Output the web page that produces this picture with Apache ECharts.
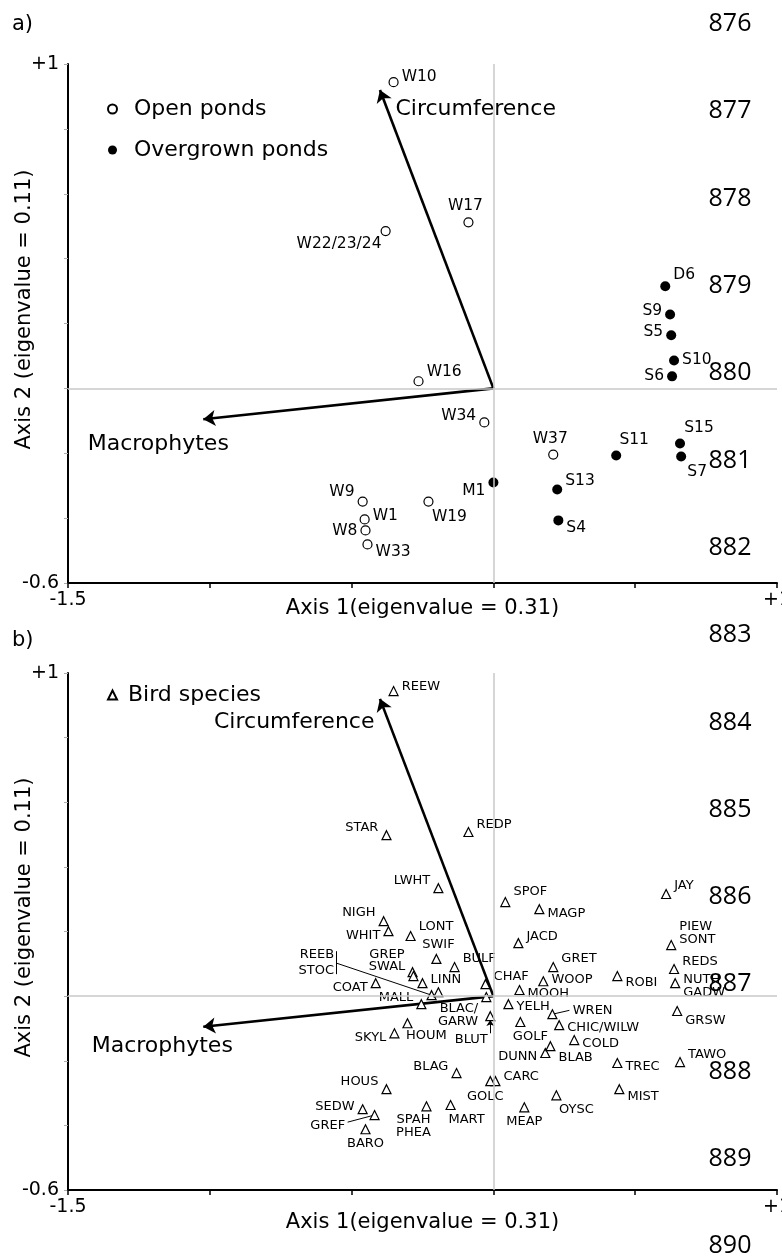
<!DOCTYPE html>
<html>
<head>
<meta charset="utf-8">
<title>RDA ordination of ponds and bird species</title>
<script src="https://cdn.jsdelivr.net/npm/echarts@6/dist/echarts.min.js"></script>
<style>
  html, body { margin: 0; padding: 0; background: #fff; }
  #chart { width: 782px; height: 1260px; }
</style>
</head>
<body>
<div id="chart"></div>
<script>
// ---- data ----
// panel a: ponds (site scores)
const openNames = ['W10', 'W17', 'W22/23/24', 'W16', 'W34', 'W37', 'W19', 'W9', 'W1', 'W8', 'W33']
const openX = [-0.352, -0.088, -0.380, -0.264, -0.032, 0.211, -0.229, -0.461, -0.454, -0.451, -0.444]
const openY = [0.944, 0.512, 0.485, 0.022, -0.105, -0.204, -0.349, -0.349, -0.404, -0.438, -0.481]

const overNames = ['D6', 'S9', 'S5', 'S10', 'S6', 'S11', 'S15', 'S7', 'M1', 'S13', 'S4']
const overX = [0.606, 0.623, 0.627, 0.637, 0.630, 0.433, 0.658, 0.662, 0.0, 0.225, 0.229]
const overY = [0.315, 0.228, 0.164, 0.086, 0.037, -0.207, -0.170, -0.210, -0.290, -0.312, -0.407]

// environmental vectors (same in both panels)
const envNames = ['Circumference', 'Macrophytes']
const envX = [-0.400, -1.023]
const envY = [0.920, -0.095]

// panel b: bird species scores
const birdNames = ['REEW', 'STAR', 'REDP', 'LWHT', 'NIGH', 'WHIT', 'LONT', 'SWIF', 'BULF', 'GREP',
  'SWAL', 'LINN', 'COAT', 'REEB', 'STOC', 'MALL', 'CHAF', 'BLAC/\nGARW', 'BLUT', 'SPOF',
  'MAGP', 'JACD', 'GRET', 'WOOP', 'MOOH', 'ROBI', 'JAY', 'PIEW\nSONT', 'REDS', 'NUTH\nGADW',
  'GRSW', 'YELH', 'WREN', 'GOLF', 'CHIC/WILW', 'COLD', 'DUNN', 'BLAB', 'TREC', 'TAWO',
  'CARC', 'GOLC', 'MIST', 'OYSC', 'MEAP', 'SKYL', 'HOUM', 'BLAG', 'HOUS', 'SEDW',
  'GREF', 'BARO', 'SPAH\nPHEA', 'MART']
const birdX = [-0.352, -0.377, -0.088, -0.194, -0.387, -0.370, -0.292, -0.201, -0.137, -0.285,
  -0.282, -0.250, -0.415, -0.218, -0.194, -0.254, -0.028, -0.025, -0.011, 0.042,
  0.162, 0.088, 0.211, 0.176, 0.092, 0.437, 0.609, 0.627, 0.637, 0.641,
  0.648, 0.053, 0.208, 0.095, 0.232, 0.285, 0.183, 0.201, 0.437, 0.658,
  0.007, -0.011, 0.444, 0.222, 0.109, -0.349, -0.303, -0.130, -0.377, -0.461,
  -0.419, -0.451, -0.236, -0.151]
const birdY = [0.944, 0.498, 0.508, 0.334, 0.232, 0.201, 0.186, 0.115, 0.090, 0.074,
  0.062, 0.040, 0.040, 0.003, 0.012, -0.025, 0.037, -0.003, -0.062, 0.291,
  0.269, 0.164, 0.090, 0.046, 0.019, 0.062, 0.316, 0.158, 0.084, 0.040,
  -0.046, -0.025, -0.056, -0.080, -0.090, -0.136, -0.176, -0.155, -0.207, -0.204,
  -0.263, -0.263, -0.288, -0.307, -0.344, -0.115, -0.084, -0.238, -0.288, -0.350,
  -0.368, -0.412, -0.341, -0.337]

// manuscript line numbers down the right margin
const lineNumbers = [876, 877, 878, 879, 880, 881, 882, 883, 884, 885, 886, 887, 888, 889, 890]

// ---- label placement (position, dx, dy) ----
const siteLabelPos = {
  'W10': ['right', 0, -5], 'W17': ['top', -3, 0], 'W22/23/24': ['left', 4, 13],
  'W16': ['right', 0, -9], 'W34': ['left', 0, -6], 'W37': ['top', -3, 0],
  'W19': ['bottom', 21, 0], 'W9': ['left', 0, -10], 'W1': ['right', 0, -3],
  'W8': ['left', 0, 1], 'W33': ['right', 0, 8],
  'D6': ['right', 0, -11], 'S9': ['left', 0, -3], 'S5': ['left', 0, -3],
  'S10': ['right', 0, -1], 'S6': ['left', 0, 0], 'S11': ['top', 18, 0],
  'S15': ['top', 19, 0], 'S7': ['bottom', 16, 0], 'M1': ['left', 0, 9],
  'S13': ['right', 0, -9], 'S4': ['right', 0, 8]
}
const birdLabelPos = {
  'REEW': ['right', 0, -4], 'STAR': ['left', 0, -8], 'REDP': ['right', 0, -7],
  'LWHT': ['left', 0, -8], 'NIGH': ['left', 0, -9], 'WHIT': ['left', 0, 4],
  'LONT': ['right', 0, -9], 'SWIF': ['top', 2, 0], 'BULF': ['right', 0, -8],
  'GREP': ['left', 0, -18], 'SWAL': ['left', 0, -9], 'LINN': ['right', 0, -4],
  'COAT': ['left', 0, 4], 'MALL': ['left', 0, -7], 'CHAF': ['right', 0, -8],
  'BLAC/\nGARW': ['left', 0, 18], 'MOOH': ['right', 0, 4], 'SPOF': ['right', 0, -10],
  'MAGP': ['right', 0, 4], 'JACD': ['right', 0, -7], 'GRET': ['right', 0, -8],
  'WOOP': ['right', 0, -2], 'ROBI': ['right', 0, 7], 'JAY': ['right', 0, -8],
  'PIEW\nSONT': ['right', 0, -12], 'REDS': ['right', 0, -7], 'NUTH\nGADW': ['right', 0, 3],
  'GRSW': ['right', 0, 10], 'YELH': ['right', 0, 2], 'GOLF': ['bottom', 10, 0],
  'CHIC/WILW': ['right', 0, 2], 'COLD': ['right', 0, 4], 'DUNN': ['left', 0, 4],
  'BLAB': ['right', 0, 11], 'TREC': ['right', 0, 4], 'TAWO': ['right', 0, -7],
  'CARC': ['right', 0, -4], 'GOLC': ['bottom', -5, 1], 'MIST': ['right', 0, 7],
  'OYSC': ['bottom', 20, 0], 'MEAP': ['bottom', 0, 0], 'SKYL': ['left', 0, 4],
  'HOUM': ['bottom', 19, -2], 'BLAG': ['left', 0, -6], 'HOUS': ['left', 0, -8],
  'SEDW': ['left', 0, -3], 'BARO': ['bottom', 0, 0], 'SPAH\nPHEA': ['bottom', -13, -1],
  'MART': ['bottom', 16, 0]
}
// labels for REEB, STOC, WREN, GREF, BLUT sit away from their points, joined by leader lines
const annoNames = ['REEB', 'STOC', 'WREN', 'GREF', 'BLUT']
const annoX = [-0.553, -0.553, 0.271, -0.514, -0.011]
const annoY = [0.127, 0.080, -0.046, -0.402, -0.136]
const annoPos = ['left', 'left', 'right', 'left', 'left']

const FONT = "'DejaVu Sans', sans-serif"
const INK = '#000'

function place(p) {
  return { show: true, position: p[0], offset: [p[1], p[2]] }
}
function birdPt(name) {
  const i = birdNames.indexOf(name)
  return [birdX[i], birdY[i]]
}

const openData = openNames.map((n, i) => ({ name: n, value: [openX[i], openY[i]], label: place(siteLabelPos[n]) }))
const overData = overNames.map((n, i) => ({ name: n, value: [overX[i], overY[i]], label: place(siteLabelPos[n]) }))
const birdData = birdNames.map((n, i) => ({
  name: n,
  value: [birdX[i], birdY[i]],
  label: birdLabelPos[n] ? place(birdLabelPos[n]) : { show: false },
}))
const annoData = annoNames.map((n, i) => ({
  name: n, value: [annoX[i], annoY[i]], label: { show: true, position: annoPos[i], distance: 2 },
}))

const bracketX = -0.553
const leaderData = [
  { coords: [[bracketX, 0.139], [bracketX, 0.068]] },
  { coords: [[bracketX, 0.102], birdPt('REEB')] },
  { coords: [birdPt('WREN'), [0.268, -0.044]] },
  { coords: [[-0.514, -0.390], birdPt('GREF')] },
]

// env arrows + label placement per panel
function envArrows() {
  return envNames.map((n, i) => ({ coords: [[0, 0], [envX[i], envY[i]]] }))
}
const envLabelA = [['right', 0, 19, 15], ['bottom', -45, 0, 14]]
const envLabelB = [['left', 0, 23, 5], ['bottom', -41, 0, 8]]
function envTips(pl) {
  return envNames.map((n, i) => ({
    name: n,
    value: [envX[i], envY[i]],
    label: { show: true, position: pl[i][0], offset: [pl[i][1], pl[i][2]], distance: pl[i][3] },
  }))
}

function xAxisFor(grid, gap) {
  return {
    gridIndex: grid,
    type: 'value',
    min: -1.5,
    max: 1,
    interval: 0.5,
    name: 'Axis 1(eigenvalue = 0.31)',
    nameLocation: 'middle',
    nameGap: gap,
    nameMoveOverlap: false,
    nameTextStyle: { fontSize: 21, fontFamily: FONT, color: INK },
    axisLine: { show: true, onZero: false, lineStyle: { color: '#000', width: 2 } },
    axisTick: { show: true, length: 5, lineStyle: { color: '#000', width: 1.5 } },
    splitLine: { show: false },
    axisLabel: {
      fontSize: 19,
      fontFamily: FONT,
      color: INK,
      margin: 8,
      alignMinLabel: 'center',
      alignMaxLabel: 'center',
      formatter: (v) => (v === -1.5 ? '-1.5' : Math.abs(v - 1) < 1e-9 ? '+1' : ''),
    },
  }
}
function yAxisFor(grid) {
  return {
    gridIndex: grid,
    type: 'value',
    min: -0.6,
    max: 1,
    interval: 0.2,
    name: 'Axis 2 (eigenvalue = 0.11)',
    nameLocation: 'middle',
    nameGap: 33,
    nameRotate: 90,
    nameMoveOverlap: false,
    nameTextStyle: { fontSize: 21, fontFamily: FONT, color: INK, padding: [0, 0, 0, 28] },
    axisLine: { show: true, onZero: false, lineStyle: { color: '#000', width: 2 } },
    axisTick: { show: true, length: 4, lineStyle: { color: '#aaa', width: 1 } },
    splitLine: { show: false },
    axisLabel: {
      fontSize: 19,
      fontFamily: FONT,
      color: INK,
      margin: 9,
      formatter: (v) => (Math.abs(v - 1) < 1e-9 ? '+1' : Math.abs(v + 0.6) < 1e-9 ? '-0.6' : ''),
    },
  }
}

const zeroLines = {
  silent: true,
  symbol: 'none',
  label: { show: false },
  lineStyle: { color: '#c8c8c8', width: 1.5, type: 'solid' },
  data: [{ xAxis: 0 }, { yAxis: 0 }],
}

const pointLabel = (size) => ({ show: true, formatter: '{b}', fontSize: size, lineHeight: size, color: INK, fontFamily: FONT })

const chart = echarts.init(document.getElementById('chart'), null, { renderer: 'canvas' })

chart.setOption({
  animation: false,
  backgroundColor: '#fff',
  textStyle: { fontFamily: FONT },
  title: [
    { text: 'a)', left: 7, top: 9, textStyle: { fontSize: 21, fontWeight: 'normal', fontFamily: FONT, color: INK } },
    { text: 'b)', left: 7, top: 625, textStyle: { fontSize: 21, fontWeight: 'normal', fontFamily: FONT, color: INK } },
  ],
  legend: [
    {
      data: ['Open ponds', 'Overgrown ponds'],
      orient: 'vertical',
      left: 102,
      top: 93,
      itemWidth: 9,
      itemHeight: 9,
      itemGap: 19,
      selectedMode: false,
      textStyle: { fontSize: 22, lineHeight: 22, fontFamily: FONT, color: INK, padding: [0, 0, 0, 12] },
    },
    {
      data: ['Bird species'],
      left: 102,
      top: 679,
      itemWidth: 9,
      itemHeight: 9,
      selectedMode: false,
      textStyle: { fontSize: 22, lineHeight: 22, fontFamily: FONT, color: INK, padding: [0, 0, 0, 6] },
    },
  ],
  grid: [
    { left: 68, top: 64, width: 709, height: 519, containLabel: false, outerBoundsMode: 'none' },
    { left: 68, top: 673, width: 709, height: 517, containLabel: false, outerBoundsMode: 'none' },
  ],
  xAxis: [xAxisFor(0, 15), xAxisFor(1, 22)],
  yAxis: [yAxisFor(0), yAxisFor(1)],
  graphic: lineNumbers.map((n, i) => ({
    type: 'text',
    x: 730,
    y: 24 + i * 87.3,
    silent: true,
    style: {
      text: String(n),
      font: "25px 'Open Sans', 'Noto Sans', sans-serif",
      fill: '#000',
      textAlign: 'center',
      textVerticalAlign: 'middle',
    },
  })),
  series: [
    // ---- panel a ----
    {
      name: 'Open ponds',
      type: 'scatter',
      xAxisIndex: 0,
      yAxisIndex: 0,
      symbol: 'circle',
      symbolSize: 9,
      itemStyle: { color: '#fff', borderColor: '#000', borderWidth: 1.2, opacity: 1 },
      label: { ...pointLabel(15.5), distance: 3 },
      markLine: zeroLines,
      data: openData,
      z: 4,
    },
    {
      name: 'Overgrown ponds',
      type: 'scatter',
      xAxisIndex: 0,
      yAxisIndex: 0,
      symbol: 'circle',
      symbolSize: 10,
      itemStyle: { color: '#000', opacity: 1 },
      label: { ...pointLabel(15.5), distance: 3 },
      data: overData,
      z: 4,
    },
    {
      name: 'env-a',
      type: 'lines',
      coordinateSystem: 'cartesian2d',
      xAxisIndex: 0,
      yAxisIndex: 0,
      symbol: ['none', 'arrow'],
      symbolSize: 12,
      lineStyle: { color: '#000', width: 2.6, opacity: 1 },
      silent: true,
      data: envArrows(),
      z: 3,
    },
    {
      name: 'env-a-labels',
      type: 'scatter',
      xAxisIndex: 0,
      yAxisIndex: 0,
      symbolSize: 1,
      itemStyle: { color: 'rgba(0,0,0,0)', opacity: 1 },
      silent: true,
      label: pointLabel(22),
      data: envTips(envLabelA),
    },
    // ---- panel b ----
    {
      name: 'Bird species',
      type: 'scatter',
      xAxisIndex: 1,
      yAxisIndex: 1,
      symbol: 'triangle',
      symbolSize: 9,
      itemStyle: { color: '#fff', borderColor: '#000', borderWidth: 1.2, opacity: 1 },
      label: { ...pointLabel(13), distance: 3 },
      markLine: zeroLines,
      data: birdData,
      z: 4,
    },
    {
      name: 'env-b',
      type: 'lines',
      coordinateSystem: 'cartesian2d',
      xAxisIndex: 1,
      yAxisIndex: 1,
      symbol: ['none', 'arrow'],
      symbolSize: 12,
      lineStyle: { color: '#000', width: 2.6, opacity: 1 },
      silent: true,
      data: envArrows(),
      z: 3,
    },
    {
      name: 'env-b-labels',
      type: 'scatter',
      xAxisIndex: 1,
      yAxisIndex: 1,
      symbolSize: 1,
      itemStyle: { color: 'rgba(0,0,0,0)', opacity: 1 },
      silent: true,
      label: pointLabel(22),
      data: envTips(envLabelB),
    },
    {
      name: 'leaders',
      type: 'lines',
      coordinateSystem: 'cartesian2d',
      xAxisIndex: 1,
      yAxisIndex: 1,
      symbol: 'none',
      lineStyle: { color: '#000', width: 1, opacity: 1 },
      silent: true,
      data: leaderData,
    },
    {
      name: 'blut-arrow',
      type: 'lines',
      coordinateSystem: 'cartesian2d',
      xAxisIndex: 1,
      yAxisIndex: 1,
      symbol: ['none', 'arrow'],
      symbolSize: 6,
      lineStyle: { color: '#000', width: 1, opacity: 1 },
      silent: true,
      data: [{ coords: [[-0.011, -0.115], birdPt('BLUT').map((v, k) => (k === 1 ? v - 0.012 : v))] }],
    },
    {
      name: 'annotations',
      type: 'scatter',
      xAxisIndex: 1,
      yAxisIndex: 1,
      symbolSize: 1,
      itemStyle: { color: 'rgba(0,0,0,0)', opacity: 1 },
      silent: true,
      label: pointLabel(13),
      data: annoData,
    },
  ],
})

window.addEventListener('resize', () => chart.resize())
</script>
</body>
</html>
